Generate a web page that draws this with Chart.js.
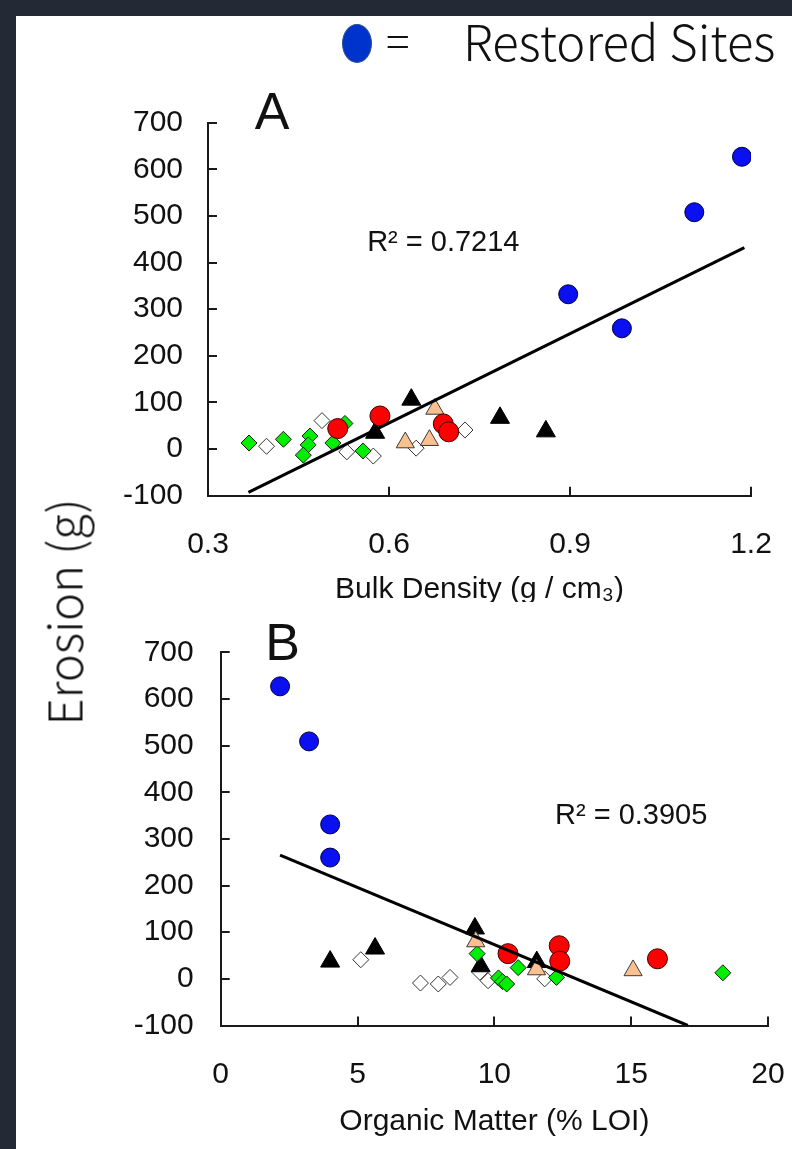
<!DOCTYPE html>
<html><head><meta charset="utf-8">
<script src="https://cdn.jsdelivr.net/npm/chart.js@4"></script>
<style>
html,body{margin:0;padding:0;}
body{width:792px;height:1149px;background:#242a35;position:relative;overflow:hidden;font-family:"Liberation Sans",Arial,sans-serif;}
#panel{position:absolute;left:16px;top:16px;right:0;bottom:0;background:#fff;}
.wrap{position:absolute;left:0;width:792px;overflow:hidden;}
#wrapA{top:0;height:602px;}
#wrapB{top:602px;height:547px;}
canvas{display:block;}
#dot{position:absolute;left:342px;top:24px;width:28px;height:37px;border-radius:50%;background:#0033cc;border:1.5px solid #2f528f;}
.lg{position:absolute;font-family:"Noto Sans CJK JP","Noto Sans",sans-serif;font-weight:300;color:#111;white-space:nowrap;line-height:1;}
#eq{left:386px;top:17px;font-size:44px;}
#rs{left:463px;top:15px;font-size:49px;}
#ylab{position:absolute;left:62px;top:612px;transform:translate(-50%,-50%) rotate(-90deg);font-family:"Noto Sans CJK JP","Noto Sans",sans-serif;font-weight:300;font-size:47px;color:#111;white-space:nowrap;line-height:1;}
</style></head>
<body>
<div id="panel"></div>
<div class="wrap" id="wrapA"><canvas id="cA" width="792" height="620"></canvas></div>
<div class="wrap" id="wrapB"><canvas id="cB" width="792" height="547"></canvas></div>
<div id="dot"></div>
<div class="lg" id="eq">=</div>
<div class="lg" id="rs">Restored Sites</div>
<div id="ylab">Erosion (g)</div>
<script>
// ---------- data ----------
// Panel A: [bulk density (g/cm3), erosion (g)]
const aBlue  = [[1.185,627],[1.106,508],[0.897,332],[0.986,259]];
const aRed   = [[0.515,44],[0.585,71],[0.690,54],[0.699,37]];
const aBlack = [[0.577,35],[0.637,106],[0.784,67],[0.860,38]];
const aTan   = [[0.627,14],[0.667,19],[0.676,86]];
const aGreen = [[0.368,13],[0.425,21],[0.469,28],[0.466,9],[0.458,-13],[0.527,55],[0.507,13],[0.557,-4]];
const aWhite = [[0.397,6],[0.489,61],[0.530,-6],[0.574,-15],[0.645,2],[0.726,41]];
const aTrend = [[0.367,-93],[1.189,432]];
const aR2 = "R² = 0.7214";
// Panel B: [organic matter (% LOI), erosion (g)]
const bBlue  = [[2.17,627],[3.23,509],[4.0,331],[4.0,260]];
const bRed   = [[10.5,54],[12.37,71],[12.39,38],[15.96,43]];
const bBlack = [[4.0,37],[5.64,65],[9.29,108],[9.5,27],[11.55,36]];
const bTan   = [[9.32,80],[11.54,20],[15.07,18]];
const bGreen = [[9.37,54],[10.15,2],[10.3,-6],[10.45,-11],[10.87,24],[12.27,3],[18.35,13]];
const bWhite = [[5.12,41],[7.3,-9],[7.95,-11],[8.38,3],[9.47,14],[9.77,-4],[11.84,0]];
const bTrend = [[2.17,265],[17.07,-100]];
const bR2 = "R² = 0.3905";
// ticks
const yTicks  = [-100,0,100,200,300,400,500,600,700];
const xTicksA = [0.3,0.6,0.9,1.2];
const xTicksB = [0,5,10,15,20];
const xTitleA = "Bulk Density (g / cm\u2083)";
const xTitleB = "Organic Matter (% LOI)";

// ---------- helpers ----------
const pts = arr => arr.map(p => ({x:p[0], y:p[1]}));
const FONT = '"Liberation Sans", Arial, sans-serif';

const innerTicks = {
  id:'innerTicks',
  beforeDatasetsDraw(chart){
    const {ctx, chartArea:ca, scales:{x,y}} = chart;
    ctx.save(); ctx.strokeStyle='#1a1a1a'; ctx.lineWidth=2;
    y.ticks.forEach(t=>{const py=Math.round(y.getPixelForValue(t.value)); ctx.beginPath(); ctx.moveTo(ca.left,py); ctx.lineTo(ca.left+9,py); ctx.stroke();});
    x.ticks.forEach(t=>{const px=Math.round(x.getPixelForValue(t.value)); ctx.beginPath(); ctx.moveTo(px,ca.bottom); ctx.lineTo(px,ca.bottom-9); ctx.stroke();});
    ctx.restore();
  }
};
const annot = {
  id:'annot',
  afterDraw(chart, args, o){
    const {ctx, chartArea:ca, scales:{x,y}} = chart;
    ctx.save(); ctx.fillStyle='#111'; ctx.textAlign='center'; ctx.textBaseline='middle';
    ctx.font = '52px ' + FONT;
    ctx.fillText(o.letter, ca.left + o.ldx, ca.top + o.ldy);
    ctx.font = '29px ' + FONT;
    ctx.fillText(o.r2, x.getPixelForValue(o.r2x), y.getPixelForValue(o.r2y));
    ctx.restore();
  }
};

function scatterSet(data, style, radius, bg, border, order){
  return {type:'scatter', data:pts(data), pointStyle:style, pointRadius:radius, pointHoverRadius:radius,
    backgroundColor:bg, borderColor:border, pointBorderWidth:1, borderWidth:1, order:order};
}

function makeChart(id, cfg){
  return new Chart(document.getElementById(id), {
    type:'scatter',
    data:{datasets:[
      {type:'line', data:pts(cfg.trend), borderColor:'#000', borderWidth:3, pointRadius:0, fill:false, order:0},
      scatterSet(cfg.blue,'circle',9.5,'#0a10f0','#00003a',1),
      scatterSet(cfg.red,'circle',10,'#ff0000','#3a0000',2),
      scatterSet(cfg.tan,'triangle',10.5,'#fac090','#3a3a3a',3),
      scatterSet(cfg.green,'rectRot',8,'#00ee00','#1a1a1a',4),
      scatterSet(cfg.black,'triangle',11,'#000000','#000000',5),
      scatterSet(cfg.white,'rectRot',8,'#ffffff','#333333',6)
    ]},
    options:{
      responsive:false, animation:false, events:[],
      layout:{padding:cfg.pad},
      plugins:{legend:{display:false}, tooltip:{enabled:false}, title:{display:false},
        annot:{letter:cfg.letter, ldx:cfg.ldx, ldy:cfg.ldy, r2:cfg.r2, r2x:cfg.r2x, r2y:cfg.r2y}},
      scales:{
        x:{type:'linear', min:cfg.xTicks[0], max:cfg.xTicks[cfg.xTicks.length-1],
          afterBuildTicks:s=>{s.ticks=cfg.xTicks.map(v=>({value:v}));},
          afterFit:s=>{s.height=cfg.xh;},
          grid:{display:true, drawOnChartArea:false, drawTicks:true, tickLength:cfg.xtl, tickColor:'rgba(0,0,0,0)'},
          border:{display:true, color:'#1a1a1a', width:2},
          ticks:{padding:4, color:'#111', font:{family:FONT, size:30}, callback:cfg.fmt, maxRotation:0},
          title:{display:true, text:cfg.xTitle, color:'#111', font:{family:FONT, size:30}, padding:{top:0,bottom:cfg.tpb}}
        },
        y:{type:'linear', min:-100, max:700,
          afterBuildTicks:s=>{s.ticks=yTicks.map(v=>({value:v}));},
          afterFit:s=>{s.width=cfg.yw;},
          grid:{display:true, drawOnChartArea:false, drawTicks:false},
          border:{display:true, color:'#1a1a1a', width:2},
          ticks:{padding:cfg.ypad, color:'#111', font:{family:FONT, size:30}}
        }
      }
    },
    plugins:[innerTicks, annot]
  });
}

makeChart('cA', {trend:aTrend, blue:aBlue, red:aRed, tan:aTan, green:aGreen, black:aBlack, white:aWhite,
  xTicks:xTicksA, fmt:v=>Number(v).toFixed(1), xTitle:xTitleA,
  pad:{top:122.7, right:41, bottom:0, left:0}, xh:124.3, yw:208, xtl:27.3, ypad:25, tpb:12,
  letter:'A', ldx:64, ldy:-8, r2:aR2, r2x:0.69, r2y:442});

makeChart('cB', {trend:bTrend, blue:bBlue, red:bRed, tan:bTan, green:bGreen, black:bBlack, white:bWhite,
  xTicks:xTicksB, fmt:v=>String(v), xTitle:xTitleB,
  pad:{top:50.3, right:24, bottom:0, left:0}, xh:123.5, yw:220.7, xtl:27.5, ypad:27, tpb:9,
  letter:'B', ldx:62, ldy:-7, r2:bR2, r2x:15.0, r2y:350});
</script>
</body></html>
